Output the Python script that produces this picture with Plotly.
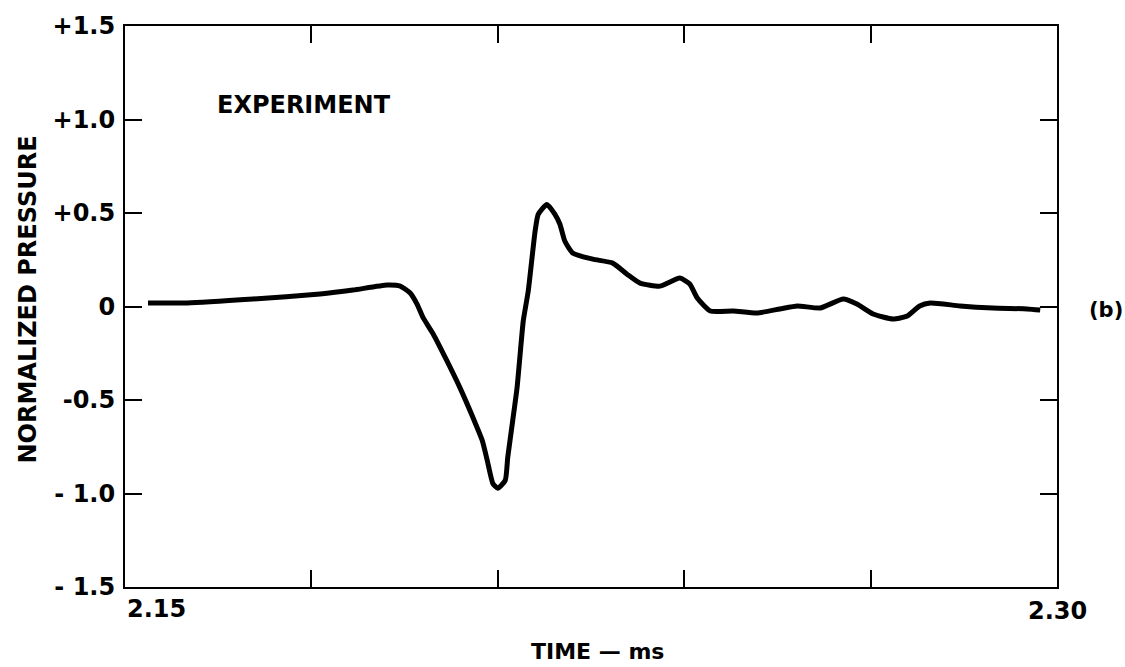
import plotly.graph_objects as go

time_ms = [2.1537, 2.1600, 2.1706, 2.1814, 2.1867, 2.1922, 2.1943, 2.1959, 2.1970,
           2.1980, 2.1996, 2.2018, 2.2039, 2.2060, 2.2075, 2.2083, 2.2092, 2.2100,
           2.2112, 2.2116, 2.2124, 2.2131, 2.2136, 2.2141, 2.2149, 2.2155, 2.2160,
           2.2165, 2.2179, 2.2192, 2.2200, 2.2208, 2.2221, 2.2253, 2.2285, 2.2308,
           2.2329, 2.2361, 2.2393, 2.2409, 2.2421, 2.2442, 2.2479, 2.2517, 2.2554,
           2.2582, 2.2619, 2.2656, 2.2678, 2.2704, 2.2736, 2.2759, 2.2779, 2.2796,
           2.2844, 2.2897, 2.2952, 2.2973]
pressure = [0.019, 0.019, 0.040, 0.067, 0.088, 0.115, 0.109, 0.072, 0.013,
            -0.061, -0.147, -0.290, -0.434, -0.594, -0.717, -0.823, -0.946, -0.972,
            -0.930, -0.807, -0.610, -0.434, -0.253, -0.077, 0.083, 0.258, 0.402,
            0.493, 0.546, 0.493, 0.440, 0.349, 0.285, 0.253, 0.232, 0.173,
            0.125, 0.109, 0.152, 0.120, 0.045, -0.024, -0.024, -0.035, -0.013,
            0.003, -0.008, 0.040, 0.013, -0.040, -0.067, -0.051, 0.003, 0.019,
            0.003, -0.008, -0.013, -0.019]

x_ticks = [2.15, 2.18, 2.21, 2.24, 2.27, 2.30]
y_ticks = [-1.5, -1.0, -0.5, 0, 0.5, 1.0, 1.5]
y_tick_text = ["- 1.5", "- 1.0", "-0.5", "0", "+0.5", "+1.0", "+1.5"]

FONT = "DejaVu Sans"

fig = go.Figure()
fig.add_trace(go.Scatter(x=time_ms, y=pressure, mode="lines",
                         line=dict(color="black", width=5, shape="spline", smoothing=0.5),
                         showlegend=False, hoverinfo="skip"))

fig.update_layout(
    width=1125, height=667,
    margin=dict(l=125, r=68, t=24, b=80),
    paper_bgcolor="white", plot_bgcolor="white",
    font=dict(family=FONT, color="black", size=24, weight="bold"),
    xaxis=dict(range=[2.15, 2.30], tickvals=x_ticks, ticktext=[""] * len(x_ticks),
               ticks="inside", ticklen=17, tickwidth=2, tickcolor="black",
               showline=True, linecolor="black", linewidth=2, mirror="ticks",
               showgrid=False, zeroline=False),
    yaxis=dict(range=[-1.5, 1.5], tickvals=y_ticks, ticktext=y_tick_text,
               ticks="inside", ticklen=17, tickwidth=2, tickcolor="black",
               showline=True, linecolor="black", linewidth=2, mirror="ticks",
               showgrid=False, zeroline=False, ticklabelstandoff=3,
               tickfont=dict(family=FONT, size=24, weight="bold")),
)

ann_font = dict(family=FONT, size=24, color="black", weight="bold")
fig.add_annotation(x=2.15, y=0, xref="x", yref="paper", text="2.15", showarrow=False,
                   xanchor="left", yanchor="top", yshift=-6, font=ann_font)
fig.add_annotation(x=2.30, y=0, xref="x", yref="paper", text="2.30", showarrow=False,
                   xanchor="center", yanchor="top", yshift=-8, font=ann_font)
fig.add_annotation(x=0.5, y=0, xref="paper", yref="paper", text="TIME — ms", showarrow=False,
                   xanchor="center", yanchor="middle", yshift=-64, xshift=6,
                   font=dict(family=FONT, size=22, color="black", weight="bold"))
fig.add_annotation(x=0, y=0.5, xref="paper", yref="paper", text="NORMALIZED PRESSURE",
                   showarrow=False, textangle=-90, xanchor="center", yanchor="middle",
                   xshift=-98, yshift=7,
                   font=dict(family=FONT, size=24, color="black", weight="bold"))
fig.add_annotation(x=0.097, y=1.08, xref="paper", yref="y", text="EXPERIMENT",
                   showarrow=False, xanchor="left", yanchor="middle",
                   font=dict(family=FONT, size=24, color="black", weight="bold"))
fig.add_annotation(x=1, y=-0.02, xref="paper", yref="y", text="(b)",
                   showarrow=False, xanchor="left", yanchor="middle", xshift=30,
                   font=dict(family=FONT, size=21, color="black", weight="bold"))

fig.write_html("out.html")
